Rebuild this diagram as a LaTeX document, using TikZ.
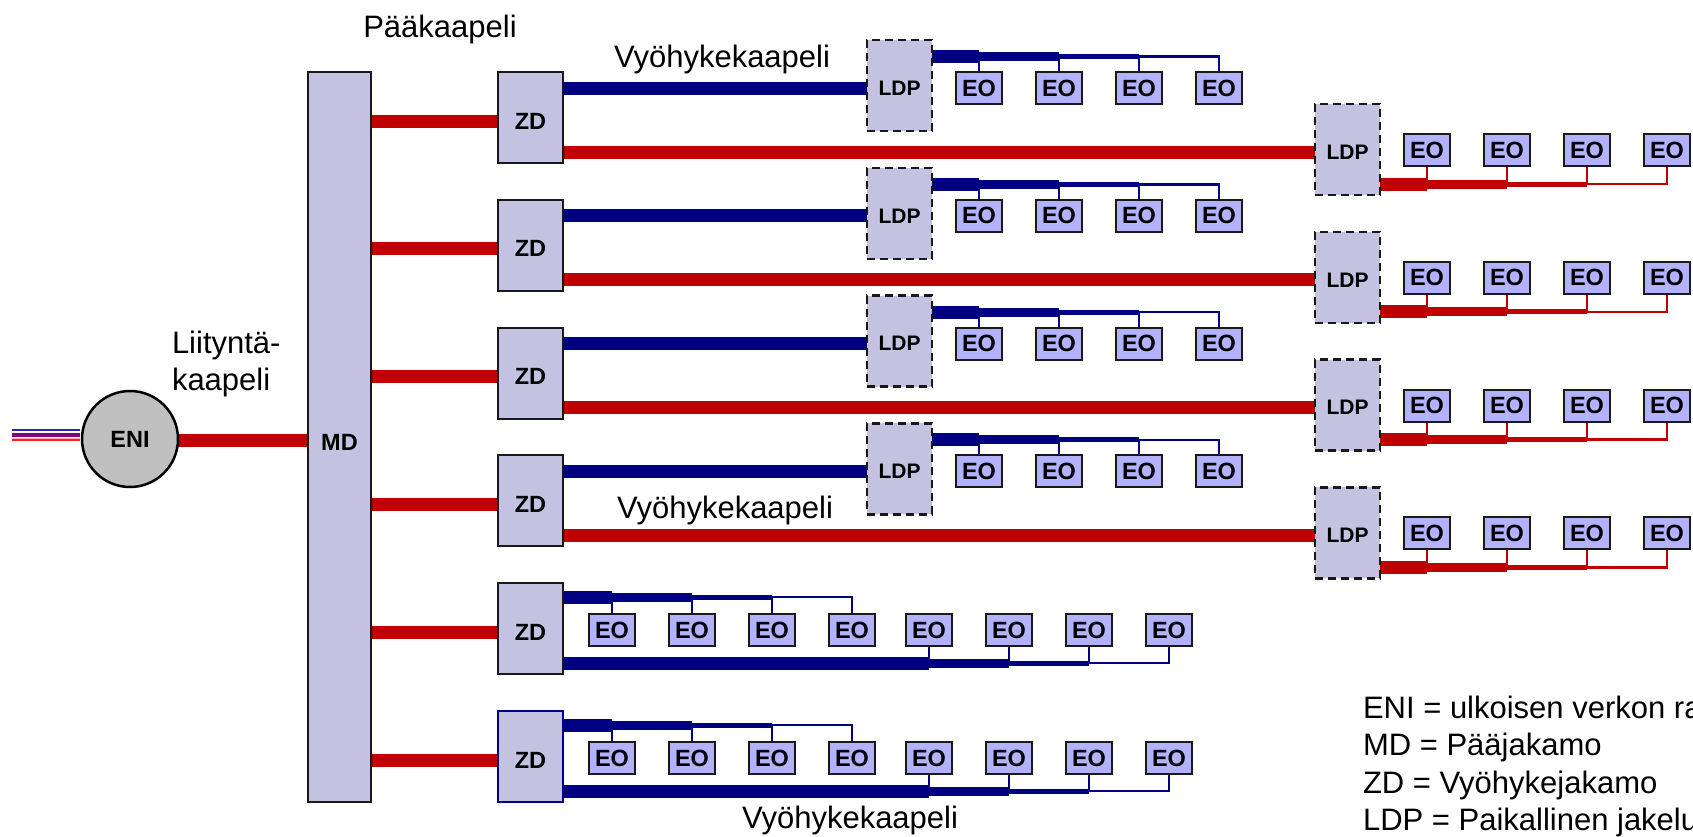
\documentclass[tikz,border=0pt]{standalone}
\usepackage{fontspec}
\setmainfont{Liberation Sans}
\pgfdeclarelayer{paper}
\pgfdeclarelayer{cables}
\pgfsetlayers{paper,cables,main}

\definecolor{cablered}{RGB}{192,0,0}
\definecolor{cablenavy}{RGB}{0,0,128}
\definecolor{boxfill}{RGB}{195,195,225}
\definecolor{eofill}{RGB}{178,178,255}
\definecolor{enifill}{RGB}{192,192,192}
\definecolor{edge}{RGB}{25,25,25}
\definecolor{feedblue}{RGB}{40,40,170}
\definecolor{feedpurple}{RGB}{128,0,128}
\definecolor{feedpink}{RGB}{255,170,170}
\definecolor{feedred}{RGB}{255,30,30}

\tikzset{
  every node/.style={inner sep=0pt, outer sep=0pt},
  dbox/.style={draw=edge, line width=2pt, fill=boxfill, anchor=north west},
  zdbox/.style={dbox, minimum width=65pt, minimum height=91pt},
  ldpbox/.style={draw=edge, line width=2.5pt, dash pattern=on 8pt off 5pt,
    fill=boxfill, anchor=north west, minimum width=65pt, minimum height=91pt},
  eo/.style={draw=edge, line width=2pt, fill=eofill, anchor=north west,
    minimum width=46pt, minimum height=32pt,
    font=\fontsize{23.5}{28}\selectfont\bfseries},
  tag/.style={font=\fontsize{23.5}{28}\selectfont\bfseries},
  ldptag/.style={font=\fontsize{21}{25}\selectfont\bfseries},
  caption/.style={font=\fontsize{31}{37}\selectfont, anchor=base},
  legend/.style={font=\fontsize{31}{37}\selectfont, anchor=base west},
  redc/.style={draw=cablered, line cap=butt},
  bluec/.style={draw=cablenavy, line cap=butt},
  zdrow4/.style={},
  zdrow5/.style={draw=cablenavy},
}

\begin{document}
\begin{tikzpicture}[x=1pt, y=-1pt]
\useasboundingbox (0,0) rectangle (1693,836);
\begin{pgfonlayer}{paper}
  \fill[white] (0,0) rectangle (1693,836);
\end{pgfonlayer}
\clip (0,0) rectangle (1693,836);

% main distributor and external interface
\node[dbox, minimum width=63pt, minimum height=730pt] (md) at (308,72) {};
\node[tag] (mdl) at (339.5,442) {MD};
\node[circle, draw=black, line width=2.5pt, fill=enifill, minimum size=96pt,
      font=\fontsize{23.5}{28}\selectfont\bfseries] (eni) at (130,439) {ENI};

\coordinate (feed) at (12,435);
\begin{pgfonlayer}{cables}
  \draw[redc, line width=13pt] (eni.east |- 0,440.5) -- (md.west |- 0,440.5);
  \draw[feedblue, line width=1.7pt] (feed) ++(0,-5) -- ++(68,0);
  \draw[feedpurple, line width=3.5pt] (feed) ++(0,0.2) -- ++(68,0);
  \draw[feedpink, line width=1pt] (feed) ++(0,3) -- ++(68,0);
  \draw[feedred, line width=1.7pt] (feed) ++(0,5.3) -- ++(68,0);
\end{pgfonlayer}

% floors served through local distribution points
\foreach \k in {0,...,3} {
  \pgfmathsetmacro{\T}{72+127.8*\k}
  \node[zdbox] (zd\k) at (498,\T) {};
  \node[tag] (zdl\k) at (530.5,\T+49) {ZD};
  \node[ldpbox] (ldp\k) at (867,\T-32) {};
  \node[ldptag] (ldpl\k) at (899.5,\T+16) {LDP};
  \node[ldpbox] (rldp\k) at (1315,\T+32) {};
  \node[ldptag] (rldpl\k) at (1347.5,\T+80) {LDP};
  \foreach \i in {0,...,3} {
    \node[eo] (eoa\k\i) at (956+80*\i,\T) {EO};
    \node[eo] (eob\k\i) at (1404+80*\i,\T+62) {EO};
  }
  \coordinate (ba\k) at (0,\T-15.5);
  \coordinate (bb\k) at (0,\T+112);
  \begin{pgfonlayer}{cables}
    \draw[redc, line width=13pt] (md.east |- zdl\k) -- (zd\k.west |- zdl\k);
    \draw[bluec, line width=13pt] (zd\k.east |- ldpl\k) -- (ldp\k.west |- ldpl\k);
    \draw[redc, line width=13pt] (zd\k.east |- rldpl\k) -- (rldp\k.west |- rldpl\k);
    % tapered bus above the outlets
    \draw[bluec, line width=13pt] (ldp\k.east |- ba\k) -- (eoa\k0.north |- ba\k);
    \draw[bluec, line width=9pt] (eoa\k0.north |- ba\k) -- (eoa\k1.north |- ba\k);
    \draw[bluec, line width=5pt] (eoa\k1.north |- ba\k) -- (eoa\k2.north |- ba\k);
    \draw[bluec, line width=2.5pt] (eoa\k2.north |- ba\k) -- (eoa\k3.north |- ba\k) -- (eoa\k3.north);
    \foreach \i in {0,1,2}
      \draw[bluec, line width=2.2pt] (eoa\k\i.north |- ba\k) -- (eoa\k\i.north);
    % tapered bus below the outlets
    \draw[redc, line width=13pt] (rldp\k.east |- bb\k) -- (eob\k0.south |- bb\k);
    \draw[redc, line width=9pt] (eob\k0.south |- bb\k) -- (eob\k1.south |- bb\k);
    \draw[redc, line width=5pt] (eob\k1.south |- bb\k) -- (eob\k2.south |- bb\k);
    \draw[redc, line width=2.5pt] (eob\k2.south |- bb\k) -- (eob\k3.south |- bb\k) -- (eob\k3.south);
    \foreach \i in {0,1,2}
      \draw[redc, line width=2.2pt] (eob\k\i.south |- bb\k) -- (eob\k\i.south);
  \end{pgfonlayer}
}

% floors served directly from the zone distributor
\foreach \k in {4,5} {
  \pgfmathsetmacro{\T}{72+127.8*\k}
  \node[zdbox, zdrow\k] (zd\k) at (498,\T) {};
  \node[tag] (zdl\k) at (530.5,\T+49) {ZD};
  \foreach \x [count=\i from 0] in {589,669,749,829,906,986,1066,1146}
    \node[eo] (eoc\k\i) at (\x,\T+31) {EO};
  \coordinate (bc\k) at (0,\T+14);
  \coordinate (bd\k) at (0,\T+80);
  \begin{pgfonlayer}{cables}
    \draw[redc, line width=13pt] (md.east |- zdl\k) -- (zd\k.west |- zdl\k);
    \draw[bluec, line width=13pt] (zd\k.east |- bc\k) -- (eoc\k0.north |- bc\k);
    \draw[bluec, line width=9pt] (eoc\k0.north |- bc\k) -- (eoc\k1.north |- bc\k);
    \draw[bluec, line width=5pt] (eoc\k1.north |- bc\k) -- (eoc\k2.north |- bc\k);
    \draw[bluec, line width=2.5pt] (eoc\k2.north |- bc\k) -- (eoc\k3.north |- bc\k) -- (eoc\k3.north);
    \foreach \i in {0,1,2}
      \draw[bluec, line width=2.2pt] (eoc\k\i.north |- bc\k) -- (eoc\k\i.north);
    \draw[bluec, line width=13pt] (zd\k.east |- bd\k) -- (eoc\k4.south |- bd\k);
    \draw[bluec, line width=9pt] (eoc\k4.south |- bd\k) -- (eoc\k5.south |- bd\k);
    \draw[bluec, line width=5pt] (eoc\k5.south |- bd\k) -- (eoc\k6.south |- bd\k);
    \draw[bluec, line width=2.5pt] (eoc\k6.south |- bd\k) -- (eoc\k7.south |- bd\k) -- (eoc\k7.south);
    \foreach \i in {4,5,6}
      \draw[bluec, line width=2.2pt] (eoc\k\i.south |- bd\k) -- (eoc\k\i.south);
  \end{pgfonlayer}
}

% cable names
\node[caption] (pk) at (440,37) {Pääkaapeli};
\node[caption] (vk1) at (722,67) {Vyöhykekaapeli};
\node[caption] (vk2) at (725,518) {Vyöhykekaapeli};
\node[caption] (vk3) at (850,828) {Vyöhykekaapeli};
\node[legend] (lk1) at (172,353) {Liityntä-};
\node[legend] (lk2) at (172,390) {kaapeli};

% abbreviations
\node[legend] (lg1) at (1363,718) {ENI = ulkoisen verkon rajapinta};
\node[legend] (lg2) at (1363,755) {MD = Pääjakamo};
\node[legend] (lg3) at (1363,793) {ZD = Vyöhykejakamo};
\node[legend] (lg4) at (1363,830) {LDP = Paikallinen jakelupiste};
\end{tikzpicture}
\end{document}
